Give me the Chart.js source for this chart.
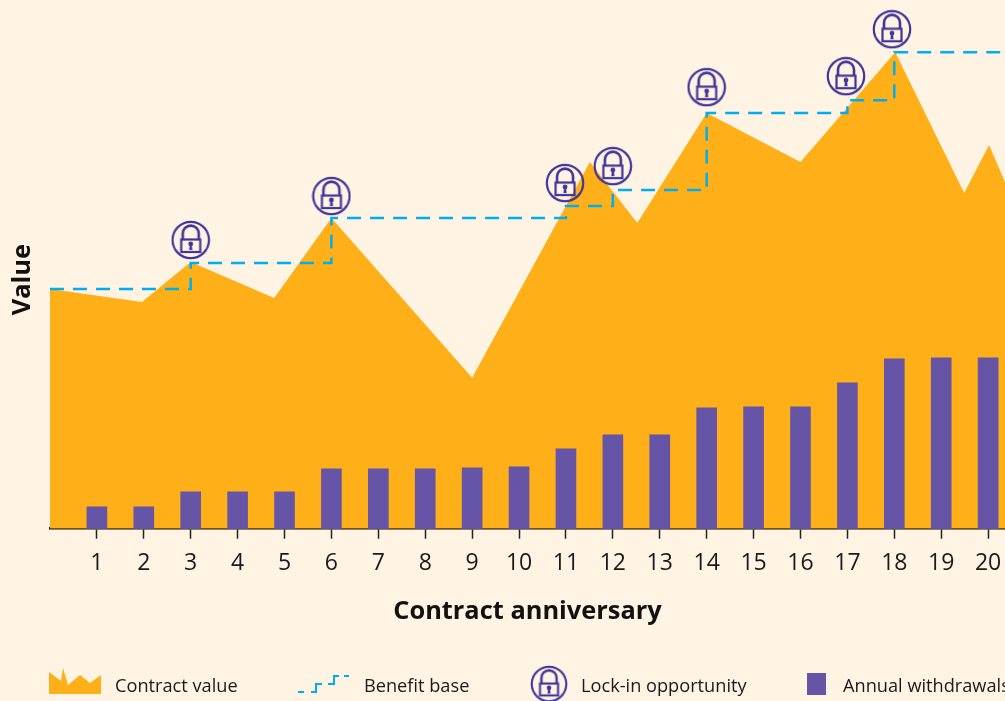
<!DOCTYPE html>
<html>
<head>
<meta charset="utf-8">
<script src="https://cdn.jsdelivr.net/npm/chart.js@4"></script>
<style>
html, body { margin: 0; padding: 0; background: #fff3e3; overflow: hidden; }
canvas { display: block; }
</style>
</head>
<body>
<canvas id="chart" width="1005" height="701"></canvas>
<script>
// values, height above the axis in pixels of the original
const years = [1, 2, 3, 4, 5, 6, 7, 8, 9, 10, 11, 12, 13, 14, 15, 16, 17, 18, 19, 20];
const withdrawals = [22, 22, 37, 37, 37, 60, 60, 60, 61, 62, 80, 94, 94, 121, 122, 122, 146, 170, 171, 171];

const contractX = [0, 1.96, 3, 4.78, 6, 9, 11.51, 12.52, 14, 16, 18.02, 19.49, 20.02, 20.36];
const contractY = [240, 227, 267, 231, 311, 151, 367, 306, 416, 367, 477, 336, 384, 347];

const benefitX = [0, 3, 6, 11, 12, 14, 17, 18, 20.36];
const benefitY = [240, 266, 311, 323, 339, 416, 429, 477, 477];

const lockX = [3, 6, 10.98, 12, 14, 16.97, 17.95];
const lockY = [289, 333, 346, 363, 442, 453, 500];

const seriesNames = ['Contract value', 'Benefit base', 'Lock-in opportunity', 'Annual withdrawals'];

const AREA = '#ffb018', DASH = '#00aeef', LOCK = '#40369a', BAR = '#6655a6', INK = '#1a1a1a';
const FONT = '"Open Sans", sans-serif';

function toPoints(xs, ys) {
    return xs.map((x, i) => ({ x: x, y: ys[i] }));
}

// padlock inside a ring, used as the point style of the lock-in series
function makeLock(size) {
    const c = document.createElement('canvas');
    c.width = size;
    c.height = size;
    const g = c.getContext('2d');
    const s = size / 40;
    g.scale(s, s);
    g.strokeStyle = LOCK;
    g.fillStyle = LOCK;
    g.lineWidth = 2.2;
    g.beginPath();
    g.arc(20, 20, 18.2, 0, Math.PI * 2);
    g.stroke();
    g.lineWidth = 2.6;
    g.beginPath();
    g.moveTo(12, 19);
    g.lineTo(12, 13.6);
    g.arc(20, 13.6, 8, Math.PI, 0);
    g.lineTo(28, 19);
    g.stroke();
    g.lineWidth = 2.2;
    g.strokeRect(10.5, 19.5, 19, 12.5);
    g.beginPath();
    g.arc(20, 24, 2.4, 0, Math.PI * 2);
    g.fill();
    g.beginPath();
    g.moveTo(19, 25);
    g.lineTo(21, 25);
    g.lineTo(21.6, 30);
    g.lineTo(18.4, 30);
    g.closePath();
    g.fill();
    return c;
}

const lockIcon = makeLock(40);

const legendPlugin = {
    id: 'bottomLegend',
    afterDraw(chart) {
        const ctx = chart.ctx;
        const y = 687;
        ctx.save();
        ctx.font = '18.2px ' + FONT;
        ctx.fillStyle = INK;
        ctx.textBaseline = 'middle';
        ctx.fillText(seriesNames[0], 115, y);
        ctx.fillText(seriesNames[1], 364, y);
        ctx.fillText(seriesNames[2], 581, y);
        ctx.fillText(seriesNames[3], 843, y);

        // contract value glyph
        ctx.fillStyle = AREA;
        ctx.beginPath();
        ctx.moveTo(49, 694);
        ctx.lineTo(49, 672);
        ctx.lineTo(61, 681);
        ctx.lineTo(63, 668);
        ctx.lineTo(68, 685);
        ctx.lineTo(80, 675);
        ctx.lineTo(90, 683);
        ctx.lineTo(101, 675);
        ctx.lineTo(101, 694);
        ctx.closePath();
        ctx.fill();

        // benefit base glyph
        ctx.strokeStyle = DASH;
        ctx.lineWidth = 2;
        ctx.beginPath();
        ctx.moveTo(298, 692);
        ctx.lineTo(304, 692);
        ctx.moveTo(311, 692);
        ctx.lineTo(316, 692);
        ctx.lineTo(316, 684);
        ctx.lineTo(322, 684);
        ctx.moveTo(328, 684);
        ctx.lineTo(334, 684);
        ctx.lineTo(334, 676);
        ctx.lineTo(339, 676);
        ctx.moveTo(344, 676);
        ctx.lineTo(349, 676);
        ctx.stroke();

        ctx.drawImage(lockIcon, 530, 665, 38, 38);

        ctx.fillStyle = BAR;
        ctx.fillRect(807, 673, 19, 22);
        ctx.restore();
    }
};

new Chart(document.getElementById('chart'), {
    data: {
        datasets: [
            {
                type: 'scatter',
                label: seriesNames[2],
                data: toPoints(lockX, lockY),
                pointStyle: lockIcon,
                pointRadius: 19,
                clip: false,
                order: 0
            },
            {
                type: 'line',
                label: seriesNames[1],
                data: toPoints(benefitX, benefitY),
                stepped: true,
                borderColor: DASH,
                borderWidth: 2.5,
                borderDash: [14, 9],
                pointRadius: 0,
                order: 1
            },
            {
                type: 'bar',
                label: seriesNames[3],
                data: toPoints(years, withdrawals),
                backgroundColor: BAR,
                barThickness: 20,
                order: 2
            },
            {
                type: 'line',
                label: seriesNames[0],
                data: toPoints(contractX, contractY),
                fill: 'origin',
                backgroundColor: AREA,
                borderWidth: 0,
                tension: 0,
                pointRadius: 0,
                order: 3
            }
        ]
    },
    options: {
        responsive: false,
        animation: false,
        layout: { autoPadding: false, padding: { top: 30.5, right: 0, bottom: 0, left: 0 } },
        plugins: { legend: { display: false }, tooltip: { enabled: false } },
        scales: {
            x: {
                type: 'linear',
                min: 0,
                max: 20.36,
                offset: false,
                grid: { display: true, offset: false, drawOnChartArea: false, drawTicks: true, tickLength: 10, tickColor: '#222', tickWidth: 1.5 },
                border: { color: '#111', width: 2.5 },
                afterBuildTicks(axis) {
                    axis.ticks = years.map(v => ({ value: v }));
                },
                // the tick labels sit well inside the plot, no side padding needed
                afterFit(axis) {
                    axis.paddingLeft = 0;
                    axis.paddingRight = 0;
                },
                ticks: {
                    autoSkip: false,
                    maxRotation: 0,
                    color: INK,
                    font: { family: FONT, size: 23 },
                    padding: 11
                },
                title: {
                    display: true,
                    text: 'Contract anniversary',
                    color: '#111',
                    font: { family: FONT, size: 25.4, weight: 'bold' },
                    padding: { top: 8.1, bottom: 74.1 }
                }
            },
            y: {
                min: 0,
                max: 498.7,
                ticks: { display: false },
                grid: { display: false, drawTicks: false },
                border: { display: false },
                title: {
                    display: true,
                    text: 'Value',
                    color: '#111',
                    font: { family: FONT, size: 25.4, weight: 'bold' },
                    padding: { top: 8, bottom: 11.5 }
                }
            }
        }
    },
    plugins: [legendPlugin]
});
</script>
</body>
</html>
